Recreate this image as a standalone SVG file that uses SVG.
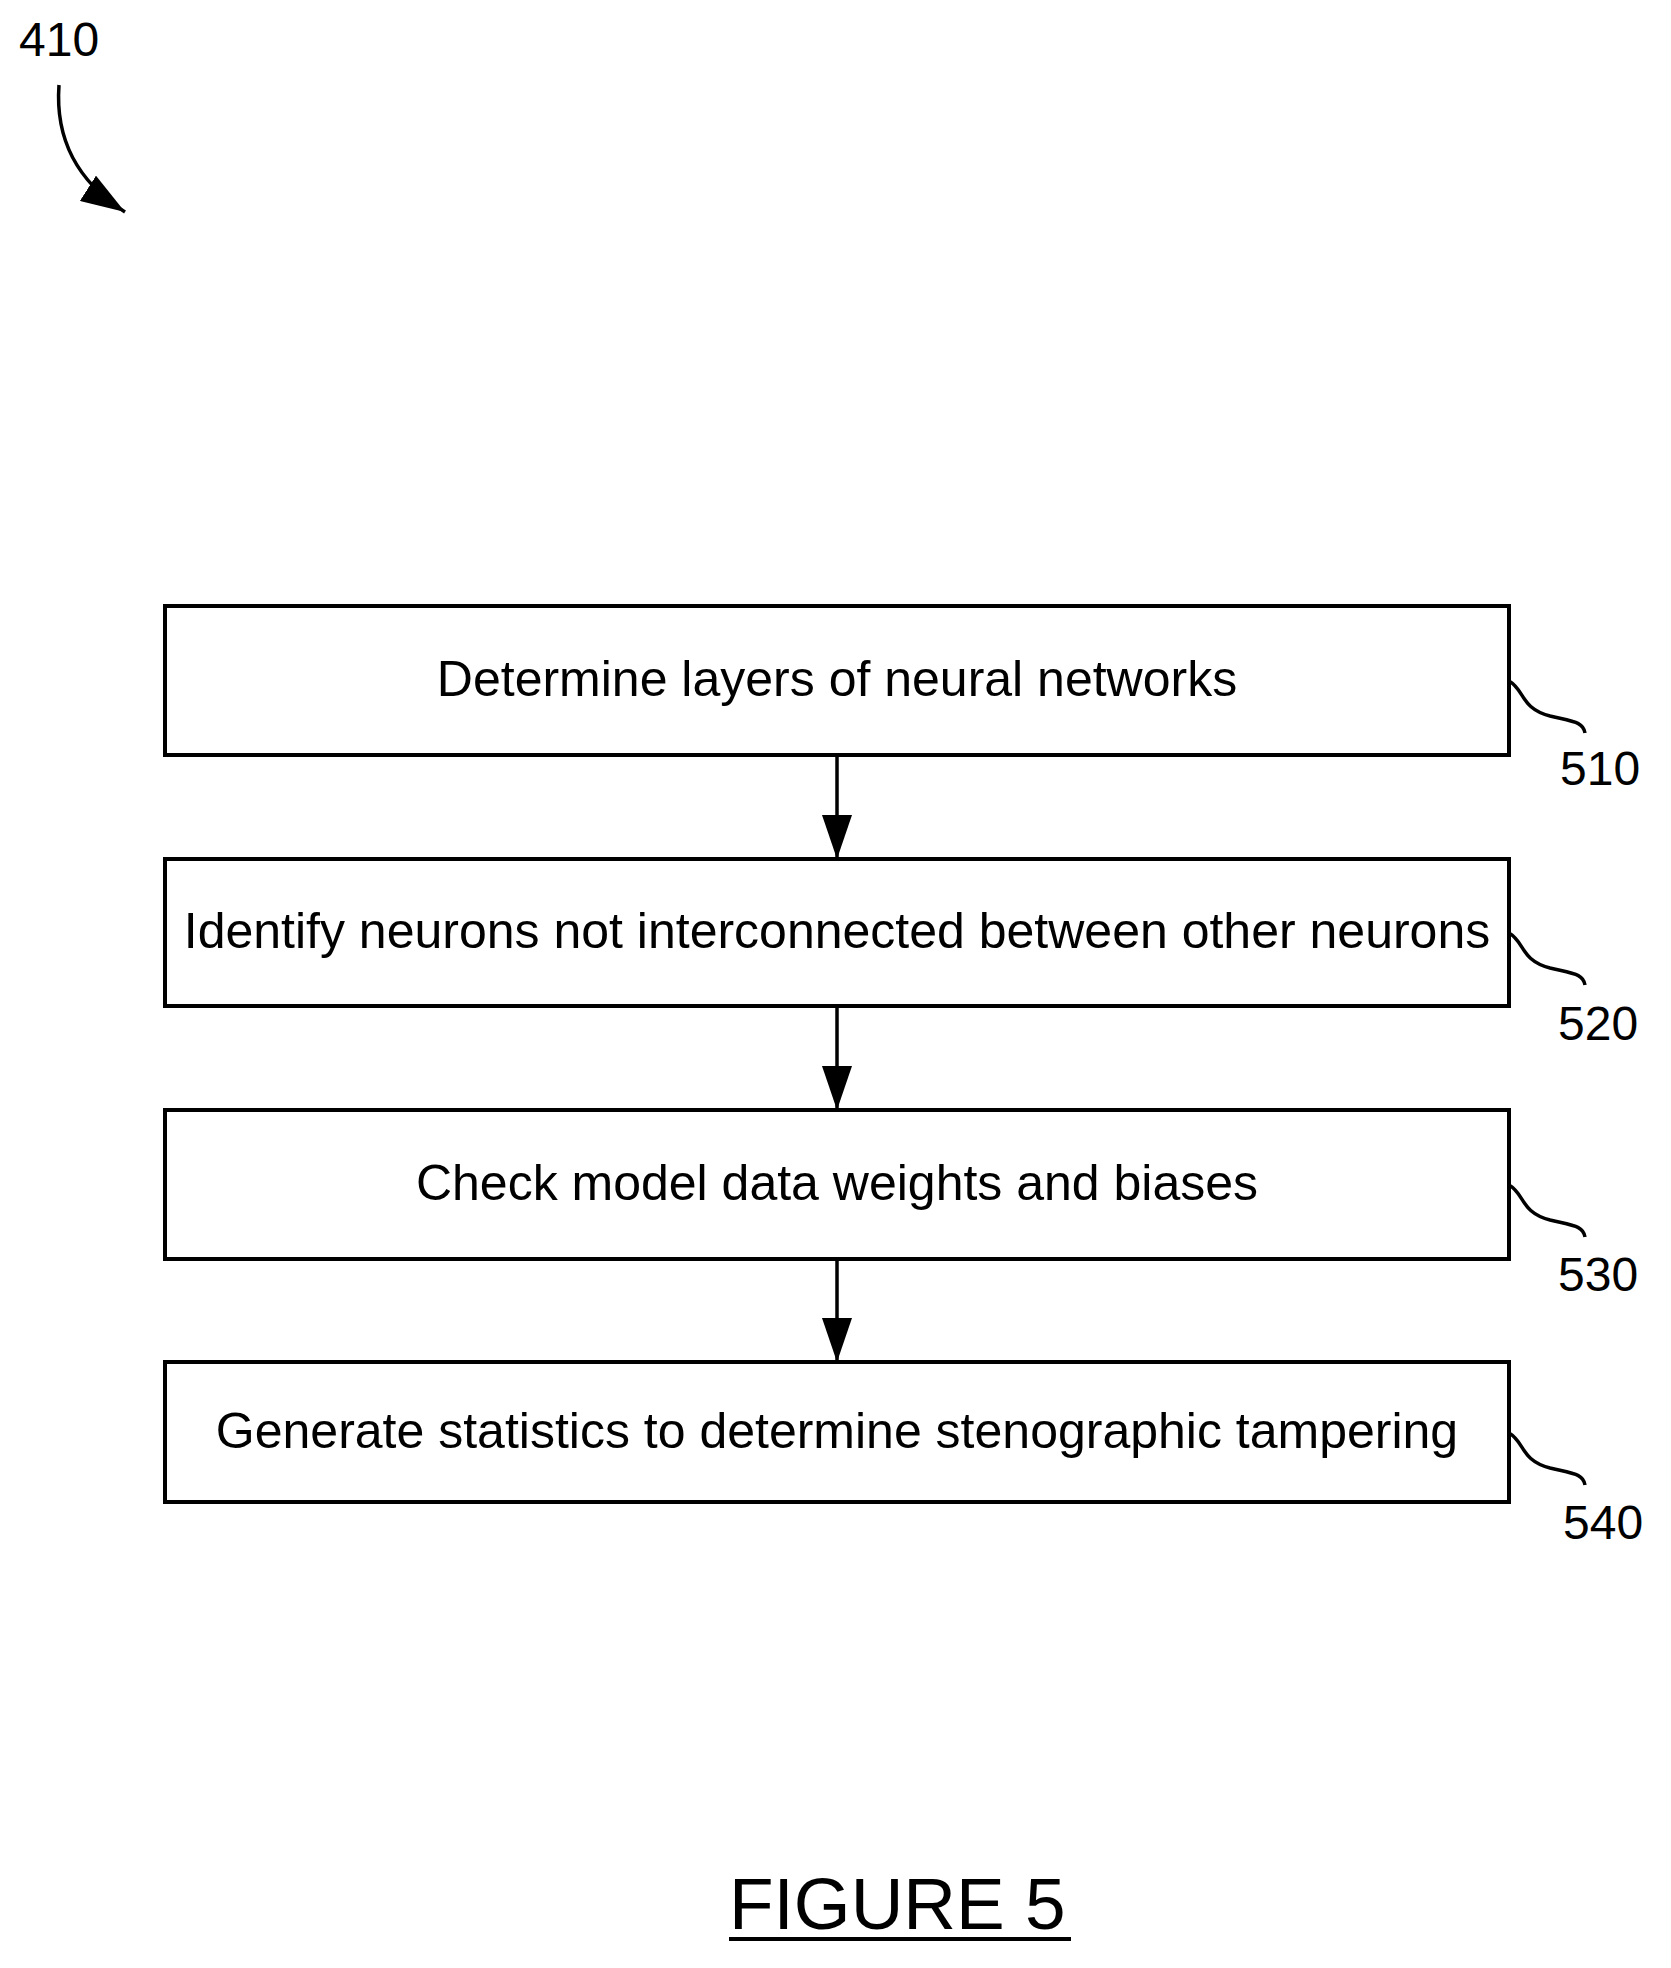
<svg xmlns="http://www.w3.org/2000/svg" width="1671" height="1968" viewBox="0 0 1671 1968">
<style>
text{font-family:"Liberation Sans",Arial,sans-serif;fill:#000}
.box{fill:#fff;stroke:#000;stroke-width:4}
.t{font-size:50px;text-anchor:middle}
.l{font-size:48px}
.c{fill:none;stroke:#000;stroke-width:3.5}
</style>
<defs>
<marker id="big" viewBox="0 0 44 30" refX="44" refY="15" markerWidth="44" markerHeight="30" orient="auto" markerUnits="userSpaceOnUse">
<path d="M0,0 L44,15 L0,30 Z"/>
</marker>
</defs>
<rect width="1671" height="1968" fill="#fff"/>
<g id="ref410">
<text class="l" x="19" y="56">410</text>
<path class="c" d="M59,85 C55,140 78,182 125,212" marker-end="url(#big)"/>
</g>
<g id="connectors">
<line class="c" x1="837" y1="755" x2="837" y2="859" marker-end="url(#big)"/>
<line class="c" x1="837" y1="1006" x2="837" y2="1110" marker-end="url(#big)"/>
<line class="c" x1="837" y1="1259" x2="837" y2="1362" marker-end="url(#big)"/>
</g>
<g id="n510">
<rect class="box" x="165" y="606" width="1344" height="149"/>
<text class="t" x="837" y="696">Determine layers of neural networks</text>
<path class="c" d="M1509,681 C1525,690 1520,708 1550,716 C1575,722 1583,722 1585,733"/>
<text class="l" x="1560" y="785">510</text>
</g>
<g id="n520">
<rect class="box" x="165" y="859" width="1344" height="147"/>
<text class="t" x="837" y="948">Identify neurons not interconnected between other neurons</text>
<path class="c" d="M1509,933 C1525,942 1520,960 1550,968 C1575,974 1583,974 1585,985"/>
<text class="l" x="1558" y="1040">520</text>
</g>
<g id="n530">
<rect class="box" x="165" y="1110" width="1344" height="149"/>
<text class="t" x="837" y="1200">Check model data weights and biases</text>
<path class="c" d="M1509,1185 C1525,1194 1520,1212 1550,1220 C1575,1226 1583,1226 1585,1237"/>
<text class="l" x="1558" y="1291">530</text>
</g>
<g id="n540">
<rect class="box" x="165" y="1362" width="1344" height="140"/>
<text class="t" x="837" y="1448">Generate statistics to determine stenographic tampering</text>
<path class="c" d="M1509,1433 C1525,1442 1520,1460 1550,1468 C1575,1474 1583,1474 1585,1485"/>
<text class="l" x="1563" y="1539">540</text>
</g>
<g id="title">
<text x="729" y="1929" font-size="73">FIGURE 5</text>
<line x1="729" y1="1939" x2="1071" y2="1939" stroke="#000" stroke-width="4"/>
</g>
</svg>
